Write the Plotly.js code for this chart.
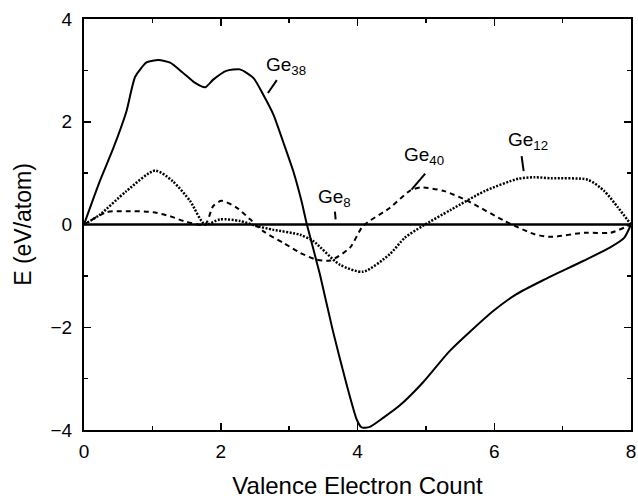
<!DOCTYPE html>
<html>
<head>
<meta charset="utf-8">
<script src="https://cdn.plot.ly/plotly-3.0.1.min.js"></script>
<style>html,body{margin:0;padding:0;background:#fff;}#chart{width:638px;height:500px;}</style>
</head>
<body>
<div id="chart"></div>
<script>
// Ge38 (solid)
var ge38X = [0, 0.23, 0.43, 0.62, 0.75, 0.92, 1.09, 1.26, 1.45, 1.62, 1.77, 1.89, 2.08, 2.28, 2.48, 2.62, 2.77, 2.91, 3.06, 3.18, 3.26, 3.45, 3.64, 3.84, 3.99, 4.06, 4.18, 4.38, 4.62, 4.96, 5.35, 5.98, 6.32, 6.72, 7.3, 7.69, 7.9, 8.0];
var ge38Y = [0, 0.84, 1.49, 2.2, 2.88, 3.16, 3.2, 3.15, 2.95, 2.76, 2.67, 2.82, 2.99, 3.02, 2.85, 2.53, 2.14, 1.62, 1.04, 0.46, 0.0, -0.97, -2.07, -3.11, -3.8, -3.95, -3.94, -3.76, -3.52, -3.07, -2.46, -1.69, -1.36, -1.08, -0.71, -0.45, -0.26, 0];
// Ge12 (dotted)
var ge12X = [0, 0.23, 0.62, 1.04, 1.3, 1.55, 1.77, 1.99, 2.28, 2.52, 2.76, 3.16, 3.35, 3.74, 4.08, 4.47, 4.69, 4.95, 5.37, 5.86, 6.35, 6.59, 6.83, 7.37, 7.61, 7.81, 8.0];
var ge12Y = [0, 0.19, 0.65, 1.05, 0.84, 0.46, 0.0, 0.1, 0.07, -0.03, -0.1, -0.2, -0.32, -0.78, -0.92, -0.58, -0.26, -0.03, 0.29, 0.65, 0.89, 0.92, 0.9, 0.87, 0.65, 0.33, 0];
// Ge40 (dashed)
var ge40X = [0, 0.33, 0.62, 1.01, 1.26, 1.5, 1.77, 1.89, 2.01, 2.23, 2.43, 2.62, 2.92, 3.16, 3.39, 3.6, 3.89, 4.08, 4.47, 4.77, 4.92, 5.27, 5.61, 6.15, 6.59, 6.83, 7.32, 7.7, 8.0];
var ge40Y = [0, 0.24, 0.26, 0.24, 0.16, 0.05, 0.0, 0.36, 0.46, 0.33, 0.1, -0.13, -0.36, -0.55, -0.68, -0.70, -0.45, -0.03, 0.32, 0.66, 0.72, 0.65, 0.46, 0.07, -0.19, -0.24, -0.16, -0.16, 0];
// Ge8 (reference, zero line)
var ge8X = [0, 8];
var ge8Y = [0, 0];

var labels = ['Ge<sub>38</sub>', 'Ge<sub>40</sub>', 'Ge<sub>12</sub>', 'Ge<sub>8</sub>'];
var labelX = [2.95, 4.97, 6.49, 3.67];
var labelY = [3.09, 1.33, 1.63, 0.52];
var ptrX0 = [2.69, 4.79, 6.40, 3.67];
var ptrY0 = [2.56, 0.68, 1.33, 0.25];
var ptrX1 = [2.82, 4.99, 6.43, 3.68];
var ptrY1 = [2.81, 0.99, 1.04, 0.10];

var FONT = 'Liberation Sans, Arial, sans-serif';

var traces = [
  {x: ge8X, y: ge8Y, mode: 'lines', line: {color: '#000', width: 2.5}, name: 'Ge8'},
  {x: ge12X, y: ge12Y, mode: 'lines', line: {color: '#000', width: 2.5, dash: '2px,1.5px', shape: 'spline', smoothing: 0.7}, name: 'Ge12'},
  {x: ge40X, y: ge40Y, mode: 'lines', line: {color: '#000', width: 2, dash: '5px,4px', shape: 'spline', smoothing: 0.7}, name: 'Ge40'},
  {x: ge38X, y: ge38Y, mode: 'lines', line: {color: '#000', width: 2, shape: 'spline', smoothing: 0.6}, name: 'Ge38'}
];

var annotations = [];
var shapes = [];
for (var i = 0; i < labels.length; i++) {
  annotations.push({x: labelX[i], y: labelY[i], xref: 'x', yref: 'y', text: labels[i], showarrow: false,
    font: {family: FONT, size: 19, color: '#000'}});
  shapes.push({type: 'line', xref: 'x', yref: 'y', x0: ptrX0[i], y0: ptrY0[i], x1: ptrX1[i], y1: ptrY1[i],
    line: {color: '#000', width: 2}});
}

var axisCommon = {
  showgrid: false, zeroline: false, showline: true, linecolor: '#000', linewidth: 2,
  mirror: 'ticks', ticks: 'inside', ticklen: 7, tickwidth: 1.5, tickcolor: '#000',
  tickfont: {family: FONT, size: 19, color: '#000'},
  minor: {dtick: 1, ticks: 'inside', ticklen: 4, tickwidth: 1.5, tickcolor: '#000'}
};

var layout = {
  width: 638, height: 500,
  margin: {l: 84, r: 7, t: 19, b: 70},
  paper_bgcolor: '#fff', plot_bgcolor: '#fff',
  showlegend: false,
  xaxis: Object.assign({}, axisCommon, {range: [0, 8], tick0: 0, dtick: 2, ticklabelstandoff: 3,
    title: {text: 'Valence Electron Count', standoff: 16, font: {family: FONT, size: 24, color: '#000'}}}),
  yaxis: Object.assign({}, axisCommon, {range: [-4, 4], tick0: 0, dtick: 2, tickformat: 'd', ticklabelstandoff: 6,
    title: {text: 'E (eV/atom)', standoff: 12, font: {family: FONT, size: 23, color: '#000'}}}),
  annotations: annotations,
  shapes: shapes
};

Plotly.newPlot('chart', traces, layout, {displayModeBar: false, staticPlot: true});
</script>
</body>
</html>
